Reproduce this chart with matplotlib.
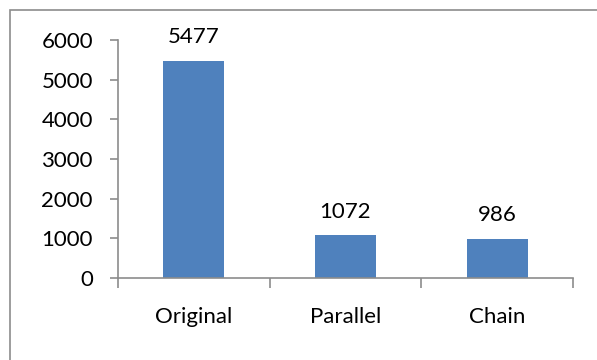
import matplotlib
matplotlib.use("Agg")
import matplotlib.pyplot as plt
from matplotlib.patches import Rectangle
from matplotlib.ticker import MultipleLocator, FixedLocator, NullFormatter

categories = ["Original", "Parallel", "Chain"]
values = [5477, 1072, 986]

plt.rcParams['font.family'] = ['Lato', 'DejaVu Sans']
FS = 16

W, H = 597, 360
fig = plt.figure(figsize=(W / 100, H / 100), dpi=100)

# outer chart border (runs past right/bottom edge like the original crop)
fig.patches.append(Rectangle((10 / W, -0.05), 1.1, 1 - 9.5 / H + 0.05,
                             transform=fig.transFigure, fill=False,
                             edgecolor="#8c8c8c", linewidth=1.2))

ax = fig.add_axes([118 / W, 1 - 278 / H, (573 - 118) / W, (278 - 40) / H])
x = list(range(len(categories)))
ax.bar(x, values, width=0.4, color="#4f81bd", zorder=2)

for xi, v in zip(x, values):
    ax.annotate(str(v), (xi, v), xytext=(0, 10), textcoords="offset points",
                ha="center", va="bottom", fontsize=FS)

ax.set_xlim(-0.5, len(categories) - 0.5)
ax.set_ylim(0, 6000)
ax.yaxis.set_major_locator(MultipleLocator(1000))

ax.set_xticks(x)
ax.set_xticklabels(categories, fontsize=FS)
ax.xaxis.set_minor_locator(FixedLocator([i - 0.5 for i in range(len(categories) + 1)]))
ax.xaxis.set_minor_formatter(NullFormatter())
ax.tick_params(axis="x", which="major", length=0, pad=21)
ax.tick_params(axis="x", which="minor", length=7, color="#8c8c8c", width=1.2)
ax.tick_params(axis="y", length=6, color="#8c8c8c", width=1.2, labelsize=FS, pad=12)

for side in ("top", "right"):
    ax.spines[side].set_visible(False)
for side in ("left", "bottom"):
    ax.spines[side].set_color("#8c8c8c")
    ax.spines[side].set_linewidth(1.2)

fig.savefig("out.png", dpi=100)
